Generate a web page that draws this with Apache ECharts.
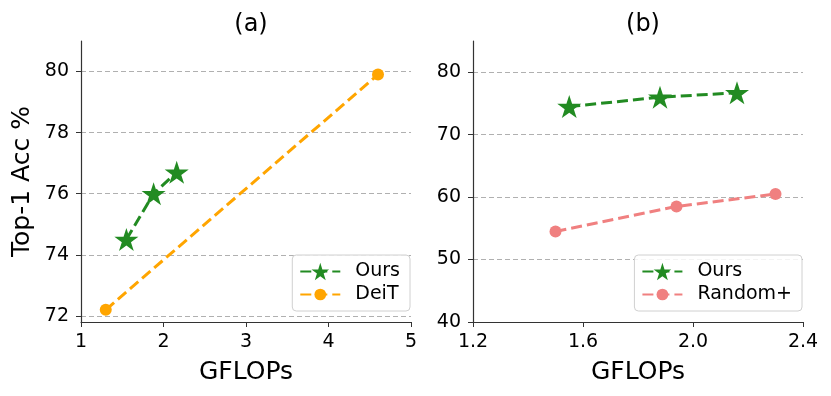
<!DOCTYPE html>
<html>
<head>
<meta charset="utf-8">
<script src="https://cdn.jsdelivr.net/npm/echarts@6/dist/echarts.min.js"></script>
<style>
  html, body { margin: 0; padding: 0; background: #fff; }
  #chart { width: 831px; height: 396px; }
</style>
</head>
<body>
<div id="chart"></div>
<script>
// panel (a)
const oursA = [[1.55, 74.5], [1.88, 76.0], [2.16, 76.7]];
const deit = [[1.3, 72.2], [4.6, 79.9]];
const xTicksA = [1, 2, 3, 4, 5];
const yTicksA = [72, 74, 76, 78, 80];

// panel (b)
const oursB = [[1.55, 74.5], [1.88, 76.0], [2.16, 76.7]];
const randomPlus = [[1.5, 54.5], [1.94, 58.5], [2.3, 60.5]];
const xTicksB = [1.2, 1.6, 2.0, 2.4];
const yTicksB = [40, 50, 60, 70, 80];

const FONT = "DejaVu Sans";
const STAR = "path://M0,-1L0.2245,-0.309L0.951,-0.309L0.363,0.118L0.588,0.809L0,0.382L-0.588,0.809L-0.363,0.118L-0.951,-0.309L-0.2245,-0.309Z";
// circle with empty margin around it so the legend dot comes out smaller than the star
const DOT = "path://M1,0A1,1 0 1,1 -1,0A1,1 0 1,1 1,0Z M-1.5,-1.5 M1.5,1.5";

const chart = echarts.init(document.getElementById("chart"), null, { renderer: "canvas" });

function xAxis(idx, min, max, ticks, fmt) {
  return {
    type: "value",
    gridIndex: idx,
    min: min,
    max: max,
    name: "GFLOPs",
    nameLocation: "middle",
    nameGap: 38,
    nameTextStyle: { fontFamily: FONT, fontSize: 25, color: "#000" },
    axisLine: { show: true, lineStyle: { color: "#333", width: 1.2 } },
    axisTick: { show: true, length: 5, customValues: ticks, lineStyle: { color: "#333" } },
    axisLabel: {
      customValues: ticks,
      margin: 11,
      fontFamily: FONT,
      fontSize: 19,
      color: "#000",
      formatter: fmt,
    },
    splitLine: { show: false },
  };
}

function yAxis(idx, min, max, ticks, name) {
  return {
    type: "value",
    gridIndex: idx,
    min: min,
    max: max,
    name: name,
    nameLocation: "middle",
    nameGap: 46,
    nameTextStyle: { fontFamily: FONT, fontSize: 25, color: "#000" },
    axisLine: { show: true, lineStyle: { color: "#333", width: 1.2 } },
    axisTick: { show: true, length: 5, customValues: ticks, lineStyle: { color: "#333" } },
    axisLabel: {
      customValues: ticks,
      margin: 12,
      fontFamily: FONT,
      fontSize: 19,
      color: "#000",
    },
    splitLine: {
      show: true,
      lineStyle: { color: "#b0b0b0", type: [5, 3], width: 1 },
    },
  };
}

function lineSeries(name, data, color, symbol, size, xi) {
  return {
    name: name,
    type: "line",
    xAxisIndex: xi,
    yAxisIndex: xi,
    data: data,
    symbol: symbol,
    symbolSize: size,
    showAllSymbol: true,
    lineStyle: { color: color, width: 3, type: [11, 5] },
    itemStyle: { color: color, opacity: 1 },
    z: 3,
  };
}

function legend(names, right) {
  return {
    data: names,
    orient: "vertical",
    right: right,
    bottom: 85,
    backgroundColor: "rgba(255,255,255,0.85)",
    borderColor: "#d0d0d0",
    borderWidth: 1,
    borderRadius: 4,
    padding: [7, 10, 7, 7],
    itemGap: 4,
    itemWidth: 40,
    itemHeight: 22,
    textStyle: { fontFamily: FONT, fontSize: 19, color: "#000", padding: [0, 0, 0, 10] },
  };
}

const option = {
  animation: false,
  backgroundColor: "#fff",
  title: [
    { text: "(a)", left: 246, top: 8, textAlign: "center",
      textStyle: { fontFamily: FONT, fontSize: 24, fontWeight: "normal", color: "#000" } },
    { text: "(b)", left: 638, top: 8, textAlign: "center",
      textStyle: { fontFamily: FONT, fontSize: 24, fontWeight: "normal", color: "#000" } },
  ],
  grid: [
    { left: 81, right: 420, top: 41, bottom: 74 },
    { left: 473, right: 28, top: 41, bottom: 74 },
  ],
  xAxis: [
    xAxis(0, 1, 5, xTicksA, (v) => String(v)),
    xAxis(1, 1.2, 2.4, xTicksB, (v) => v.toFixed(1)),
  ],
  yAxis: [
    yAxis(0, 71.8, 81, yTicksA, "Top-1 Acc %"),
    yAxis(1, 40, 85, yTicksB, ""),
  ],
  legend: [
    legend(["Ours", "DeiT"], 421),
    legend(["Ours", "Random+"], 29),
  ],
  series: [
    lineSeries("Ours", oursA, "#228B22", STAR, [24, 23], 0),
    lineSeries("DeiT", deit, "#FFA500", DOT, 18, 0),
    lineSeries("Ours", oursB, "#228B22", STAR, [24, 23], 1),
    lineSeries("Random+", randomPlus, "#F08080", DOT, 18, 1),
  ],
};

chart.setOption(option);
</script>
</body>
</html>
